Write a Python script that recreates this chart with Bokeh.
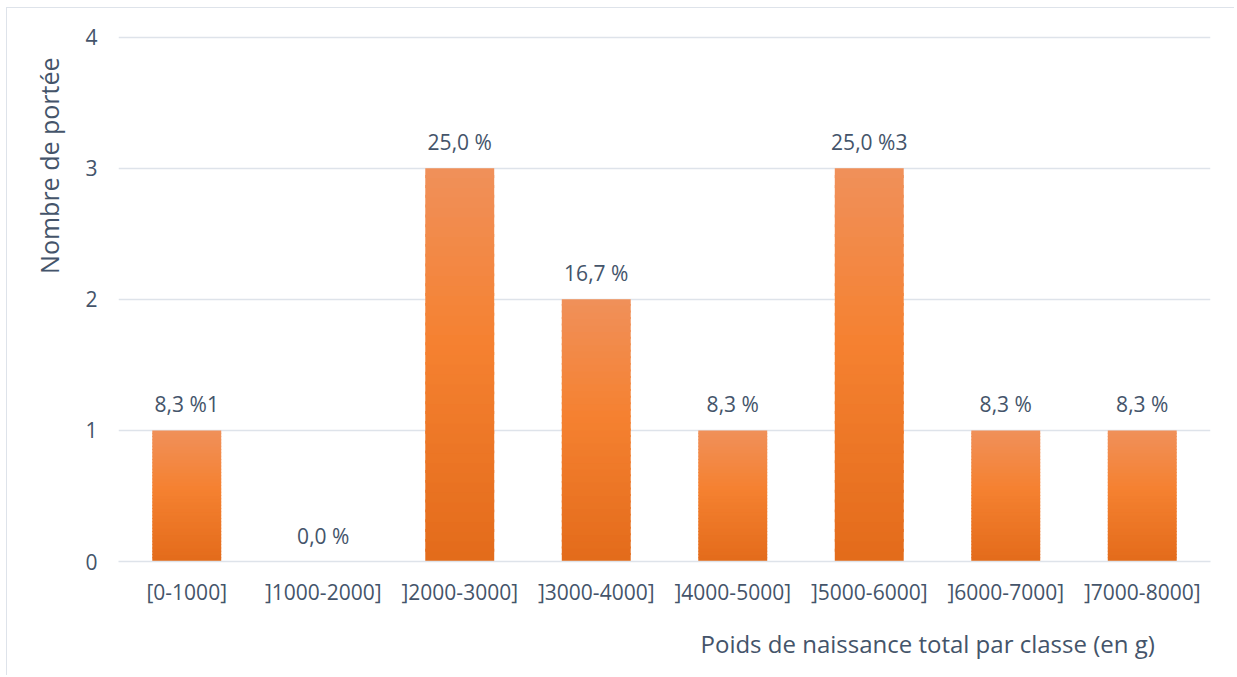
from bokeh.plotting import figure
from bokeh.models import Range1d, FactorRange, Title, ColumnDataSource
from bokeh.core.properties import value
from bokeh.embed import file_html
from bokeh.resources import INLINE

categories = ["[0-1000]", "]1000-2000]", "]2000-3000]", "]3000-4000]",
              "]4000-5000]", "]5000-6000]", "]6000-7000]", "]7000-8000]"]
counts = [1, 0, 3, 2, 1, 3, 1, 1]
bar_labels = ["8,3 %1", "0,0 %", "25,0 %", "16,7 %", "8,3 %", "25,0 %3", "8,3 %", "8,3 %"]
y_ticks = [0, 1, 2, 3, 4]

FONT = "Open Sans"
TXT = "#44546A"
GRID = "#DEE3EA"

p = figure(width=1228, height=668, output_backend="svg", toolbar_location=None,
           x_range=FactorRange(factors=categories, range_padding=0),
           y_range=Range1d(0, 4.02),
           min_border_left=111, min_border_right=25, min_border_top=26,
           min_border_bottom=115)
p.styles = {"margin-left": "6px", "margin-top": "7px",
            "border-left": "1px solid #DEE3EA", "border-top": "1px solid #DEE3EA"}
p.outline_line_color = None
p.background_fill_color = "white"

# gradient bars built from strips
def hex2rgb(h):
    h = h.lstrip("#")
    return [int(h[i:i + 2], 16) for i in (0, 2, 4)]

stops = [(0.0, hex2rgb("#F0905A")), (0.45, hex2rgb("#F58130")), (1.0, hex2rgb("#E36B1B"))]

def grad(t):
    for (t0, c0), (t1, c1) in zip(stops[:-1], stops[1:]):
        if t0 <= t <= t1:
            f = (t - t0) / (t1 - t0)
            c = [round(a + (b - a) * f) for a, b in zip(c0, c1)]
            return "#%02x%02x%02x" % tuple(c)
    return "#%02x%02x%02x" % tuple(stops[-1][1])

N = 40
xs, bots, tops, cols = [], [], [], []
for cat, v in zip(categories, counts):
    if v <= 0:
        continue
    for i in range(N):
        b = v * i / N
        t = v * (i + 1) / N
        xs.append(cat)
        bots.append(b)
        tops.append(min(v, t + v * 0.3 / N))
        frac_from_top = 1 - (i + 0.5) / N
        cols.append(grad(frac_from_top))

src = ColumnDataSource(dict(x=xs, bottom=bots, top=tops, color=cols))
p.vbar(x="x", bottom="bottom", top="top", width=0.505, fill_color="color",
       line_color=None, source=src)

# data labels
lab_src = ColumnDataSource(dict(x=categories, y=counts, text=bar_labels))
p.text(x="x", y="y", text="text", source=lab_src, text_align="center",
       text_baseline="bottom", y_offset=-12, text_color=TXT,
       text_font=value(FONT), text_font_size="21px")

# grid
p.xgrid.grid_line_color = None
p.ygrid.grid_line_color = GRID
p.ygrid.grid_line_width = 1.3
p.yaxis.ticker = y_ticks

for ax in (p.xaxis, p.yaxis):
    ax.axis_line_color = None
    ax.major_tick_line_color = None
    ax.minor_tick_line_color = None
    ax.major_tick_out = 0
    ax.major_tick_in = 0
    ax.major_label_text_color = TXT
    ax.major_label_text_font = FONT
    ax.major_label_text_font_size = "21px"
p.xaxis.axis_line_color = GRID
p.xaxis.axis_line_width = 1.3
p.xaxis.major_label_standoff = 16
p.yaxis.major_label_standoff = 21

# axis titles placed like the reference
p.add_layout(Title(text="Nombre de portée", align="right", offset=23,
                   standoff=34, text_color=TXT, text_font=FONT,
                   text_font_size="25px", text_font_style="normal"), "left")
p.add_layout(Title(text="Poids de naissance total par classe (en g)", align="left",
                   offset=582, standoff=33, text_color=TXT, text_font=FONT,
                   text_font_size="24px", text_font_style="normal"), "below")

open("out.html", "w").write(file_html(p, INLINE))
